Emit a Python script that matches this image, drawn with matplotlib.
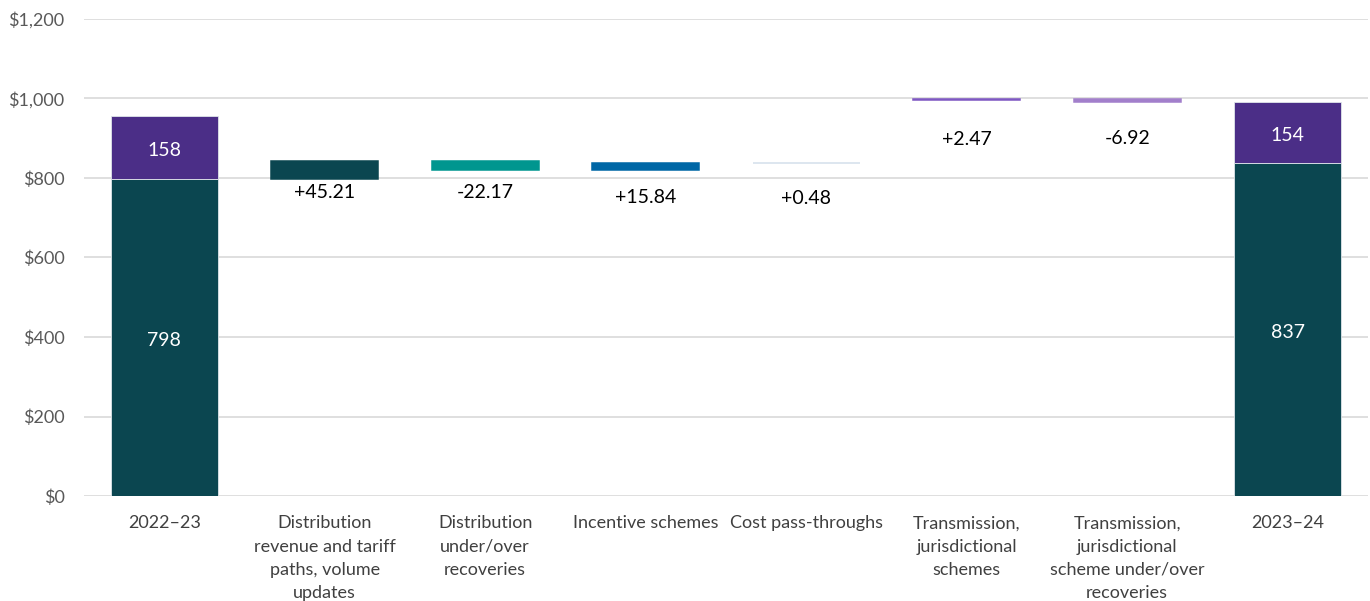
import matplotlib.pyplot as plt
import numpy as np

# Categories (x-axis labels)
categories = [
    "2022–23",
    "Distribution\nrevenue and tariff\npaths, volume\nupdates",
    "Distribution\nunder/over\nrecoveries",
    "Incentive schemes",
    "Cost pass-throughs",
    "Transmission,\njurisdictional\nschemes",
    "Transmission,\njurisdictional\nscheme under/over\nrecoveries",
    "2023–24",
]

# Totals: distribution component and transmission/jurisdictional component
start_dist, start_trans = 798, 158
end_dist, end_trans = 837, 154

# Changes (distribution steps first, then transmission steps)
dist_changes = [45.21, -22.17, 15.84, 0.48]
trans_changes = [2.47, -6.92]

# Styling
c_dist = "#0b4650"
c_trans = "#4b2e87"
step_colors = ["#0b4650", "#00968f", "#0067a6", "#d3dfeb", "#7e57c2", "#a27fcb"]
label_offsets = [4, 10, 14, 19, 22, 20]  # points below each step bar

plt.rcParams["font.family"] = ["Lato", "DejaVu Sans"]

fig = plt.figure(figsize=(13.7, 6.01), dpi=100)
ax = fig.add_axes([0.0613, 0.1747, 0.9372, 0.7937])

x = np.arange(len(categories))
width = 0.667

# Opening and closing stacked totals
ax.bar(x[0], start_dist, width, color=c_dist, edgecolor="#dfe6ea", linewidth=0.6, zorder=3)
ax.bar(x[0], start_trans, width, bottom=start_dist, color=c_trans, edgecolor="#dfe6ea", linewidth=0.6, zorder=3)
ax.bar(x[-1], end_dist, width, color=c_dist, edgecolor="#dfe6ea", linewidth=0.6, zorder=3)
ax.bar(x[-1], end_trans, width, bottom=end_dist, color=c_trans, edgecolor="#dfe6ea", linewidth=0.6, zorder=3)

ax.annotate(f"{start_dist}", (x[0], start_dist / 2), xytext=(0, -2), textcoords="offset points",
            ha="center", va="center", color="white", fontsize=14, zorder=4)
ax.annotate(f"{start_trans}", (x[0], start_dist + start_trans / 2), xytext=(0, -2), textcoords="offset points",
            ha="center", va="center", color="white", fontsize=14, zorder=4)
ax.annotate(f"{end_dist}", (x[-1], end_dist / 2), xytext=(0, -2), textcoords="offset points",
            ha="center", va="center", color="white", fontsize=14, zorder=4)
ax.annotate(f"{end_trans}", (x[-1], end_dist + end_trans / 2), xytext=(0, -2), textcoords="offset points",
            ha="center", va="center", color="white", fontsize=14, zorder=4)

# Floating step bars
level = start_dist
steps = []
for ch in dist_changes:
    steps.append((level, ch))
    level += ch
level = level + start_trans
for ch in trans_changes:
    steps.append((level, ch))
    level += ch

for i, ((base, ch), col, off) in enumerate(zip(steps, step_colors, label_offsets)):
    xi = x[i + 1]
    bottom = min(base, base + ch)
    ax.bar(xi, abs(ch), width, bottom=bottom, color=col, edgecolor=col, linewidth=1.1, zorder=3)
    ax.annotate(f"{ch:+.2f}", (xi, bottom), xytext=(0, -off), textcoords="offset points",
                ha="center", va="top", fontsize=14, color="black", zorder=4)

# Axes styling
ax.set_xlim(-0.5, len(categories) - 0.5)
ax.set_ylim(0, 1200)
ax.set_yticks(np.arange(0, 1201, 200))
ax.set_yticklabels([f"${v:,.0f}" for v in np.arange(0, 1201, 200)])
ax.yaxis.grid(True, color="#d9d9d9", linewidth=1.2, zorder=0)
ax.set_axisbelow(True)
for s in ax.spines.values():
    s.set_visible(False)
ax.tick_params(axis="y", length=0, pad=14, labelsize=13, labelcolor="#595959")
ax.tick_params(axis="x", length=0, pad=14, labelsize=13, labelcolor="#404040")
ax.set_xticks(x)
ax.set_xticklabels(categories, linespacing=1.55, va="top")

plt.savefig("out.png", dpi=100)
